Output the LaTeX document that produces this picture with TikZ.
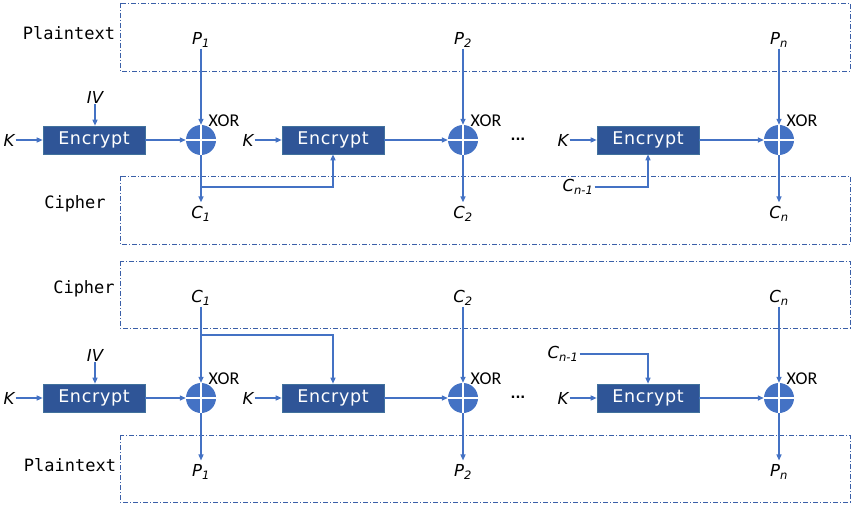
\documentclass[tikz,border=0pt]{standalone}
\usepackage{fontspec}
\setmainfont{DejaVu Sans}
\newfontfamily\monof{DejaVu Sans Mono}
\newfontfamily\xorf{Carlito}
\newfontfamily\encf[LetterSpace=4]{DejaVu Sans}
\usetikzlibrary{arrows.meta}
\definecolor{arr}{HTML}{4472C4}
\definecolor{boxc}{HTML}{2F5597}
\definecolor{boxb}{HTML}{41719C}
\definecolor{dashc}{HTML}{3A5FA8}
\begin{document}
\begin{tikzpicture}[x=1pt,y=-1pt,
  conn/.style={draw=arr, line width=1.3pt, -{Triangle[length=6pt,width=5pt]}},
  enc/.style={draw=boxb, line width=0.6pt, fill=boxc, minimum width=102pt, minimum height=28pt, inner sep=0pt, text=white, font=\encf\fontsize{17.5}{17.5}\selectfont},
  xorc/.style={circle, fill=arr, minimum size=30pt, inner sep=0pt},
  plus/.style={draw=white, line width=1.6pt},
  xorl/.style={font=\xorf\fontsize{18}{18}\selectfont, inner sep=0pt},
  lbl/.style={font=\fontsize{16.5}{16.5}\selectfont\itshape, inner sep=1pt},
  reg/.style={draw=dashc, line width=0.7pt, dash pattern=on 5pt off 2pt on 1pt off 2pt},
  regl/.style={font=\monof\fontsize{17}{17}\selectfont, inner sep=0pt},
  dotsl/.style={font=\bfseries\fontsize{13}{13}\selectfont, inner sep=0pt}
]
\useasboundingbox (0,0) rectangle (853,505);

% ---------------- top (encryption) ----------------
\draw[reg] (120,3) rectangle (850,71);
\draw[reg] (120,176) rectangle (850,244);
\node[regl] (rt1) at (69,33) {Plaintext};
\node[regl] (rt2) at (75,204) {Cipher};

\node[enc] (e1) at (94,140) {Encrypt};
\node[lbl] (k1) at (9,140) {K};
\node[lbl] (iv1) at (95,97) {IV};
\node[xorc] (x1) at (201,140) {};
\draw[plus] (x1.north) -- (x1.south) (x1.west) -- (x1.east);
\node[xorl] (xl1) at (224,121) {XOR};
\node[lbl] (p1) at (201,40) {P\textsubscript{1}};
\node[lbl] (c1) at (201,214) {C\textsubscript{1}};

\node[enc] (e2) at (333,140) {Encrypt};
\node[lbl] (k2) at (248,140) {K};
\node[xorc] (x2) at (463,140) {};
\draw[plus] (x2.north) -- (x2.south) (x2.west) -- (x2.east);
\node[xorl] (xl2) at (486,121) {XOR};
\node[lbl] (p2) at (463,40) {P\textsubscript{2}};
\node[lbl] (c2) at (463,214) {C\textsubscript{2}};
\node[dotsl] (d1) at (518,139) {...};

\node[enc] (e3) at (648,140) {Encrypt};
\node[lbl] (k3) at (563,140) {K};
\node[lbl] (cm1) at (578,187) {C\textsubscript{n-1}};
\node[xorc] (x3) at (779,140) {};
\draw[plus] (x3.north) -- (x3.south) (x3.west) -- (x3.east);
\node[xorl] (xl3) at (802,121) {XOR};
\node[lbl] (p3) at (779,40) {P\textsubscript{n}};
\node[lbl] (c3) at (779,214) {C\textsubscript{n}};

\draw[conn] (k1) -- (e1);
\draw[conn] (iv1) -- (iv1 |- e1.north);
\draw[conn] (e1) -- (x1);
\draw[conn] (p1) -- (x1);
\draw[conn, shorten >=3pt] (x1) -- (c1);
\coordinate (b1) at (201,187);
\draw[conn] (b1) -| (e2.south);
\draw[conn] (k2) -- (e2);
\draw[conn] (e2) -- (x2);
\draw[conn] (p2) -- (x2);
\draw[conn, shorten >=3pt] (x2) -- (c2);
\draw[conn] (k3) -- (e3);
\draw[conn] (cm1.east) -| (e3.south);
\draw[conn] (e3) -- (x3);
\draw[conn] (p3) -- (x3);
\draw[conn, shorten >=3pt] (x3) -- (c3);

% ---------------- bottom (decryption) ----------------
\draw[reg] (120,261) rectangle (850,328);
\draw[reg] (120,435) rectangle (850,502);
\node[regl] (rb1) at (84,289) {Cipher};
\node[regl] (rb2) at (70,465) {Plaintext};

\node[enc] (f1) at (94,398) {Encrypt};
\node[lbl] (kb1) at (9,398) {K};
\node[lbl] (ivb) at (95,355) {IV};
\node[xorc] (y1) at (201,398) {};
\draw[plus] (y1.north) -- (y1.south) (y1.west) -- (y1.east);
\node[xorl] (yl1) at (224,379) {XOR};
\node[lbl] (cb1) at (201,298) {C\textsubscript{1}};
\node[lbl] (pb1) at (201,472) {P\textsubscript{1}};

\node[enc] (f2) at (333,398) {Encrypt};
\node[lbl] (kb2) at (248,398) {K};
\node[xorc] (y2) at (463,398) {};
\draw[plus] (y2.north) -- (y2.south) (y2.west) -- (y2.east);
\node[xorl] (yl2) at (486,379) {XOR};
\node[lbl] (cb2) at (463,298) {C\textsubscript{2}};
\node[lbl] (pb2) at (463,472) {P\textsubscript{2}};
\node[dotsl] (d2) at (518,397) {...};

\node[enc] (f3) at (648,398) {Encrypt};
\node[lbl] (kb3) at (563,398) {K};
\node[lbl] (cbm1) at (563,354) {C\textsubscript{n-1}};
\node[xorc] (y3) at (779,398) {};
\draw[plus] (y3.north) -- (y3.south) (y3.west) -- (y3.east);
\node[xorl] (yl3) at (802,379) {XOR};
\node[lbl] (cb3) at (779,298) {C\textsubscript{n}};
\node[lbl] (pb3) at (779,472) {P\textsubscript{n}};

\draw[conn] (kb1) -- (f1);
\draw[conn] (ivb) -- (ivb |- f1.north);
\draw[conn] (f1) -- (y1);
\draw[conn] (cb1) -- (y1);
\draw[conn, shorten >=3pt] (y1) -- (pb1);
\coordinate (b2) at (201,335);
\draw[conn] (b2) -| (f2.north);
\draw[conn] (kb2) -- (f2);
\draw[conn] (f2) -- (y2);
\draw[conn] (cb2) -- (y2);
\draw[conn, shorten >=3pt] (y2) -- (pb2);
\draw[conn] (kb3) -- (f3);
\draw[conn] (cbm1.east) -| (f3.north);
\draw[conn] (f3) -- (y3);
\draw[conn] (cb3) -- (y3);
\draw[conn, shorten >=3pt] (y3) -- (pb3);
\end{tikzpicture}
\end{document}
